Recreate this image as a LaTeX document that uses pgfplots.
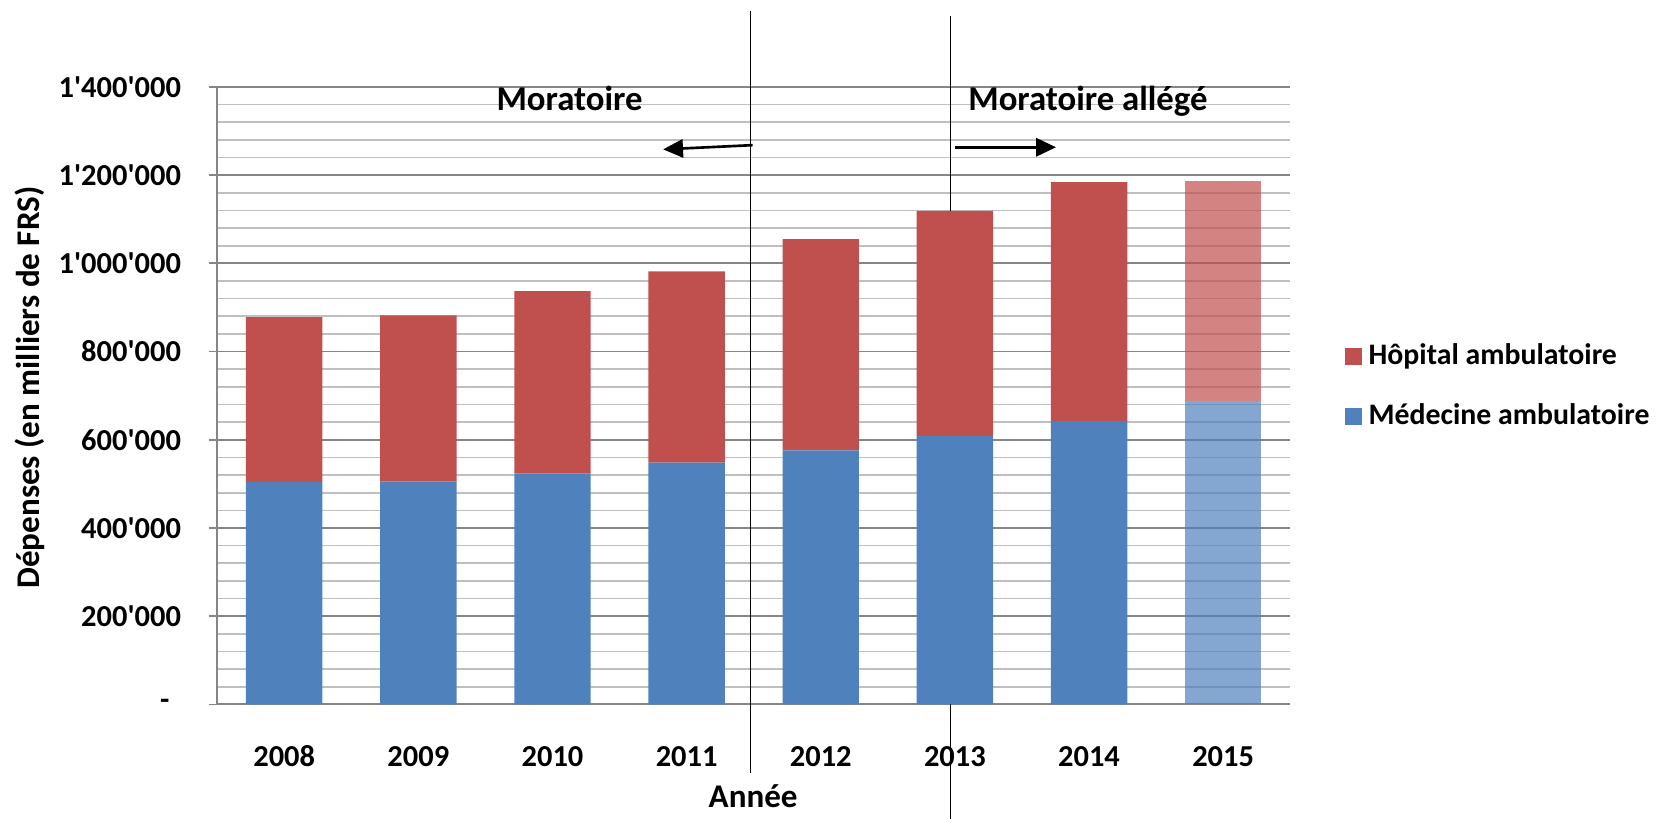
\documentclass[border=0pt]{standalone}
\usepackage{pgfplots}
\pgfplotsset{compat=1.18}
\usepackage{fontspec}
\setmainfont{Carlito}[Ligatures=TeXOff]
\usetikzlibrary{arrows.meta}
\definecolor{hop}{HTML}{C0504D}
\definecolor{med}{HTML}{4F81BD}
\definecolor{majgrid}{HTML}{868686}
\definecolor{mingrid}{HTML}{BFBFBF}
\begin{document}
\begin{tikzpicture}
\useasboundingbox (-65.6pt,-34.56pt) rectangle (436.16pt,212.8pt);
\begin{axis}[
  at={(0pt,0pt)}, anchor=south west,
  scale only axis, width=324.16pt, height=186.56pt,
  ybar stacked, bar width=0.57,
  xmin=-0.5, xmax=7.5, ymin=0, ymax=1400000,
  scaled y ticks=false,
  xtick={0,...,7}, xticklabels={2008,2009,2010,2011,2012,2013,2014,2015},
  ytick={0,200000,400000,600000,800000,1000000,1200000,1400000},
  yticklabels={-\hspace*{3.5pt},200'000,400'000,600'000,800'000,1'000'000,1'200'000,1'400'000},
  minor y tick num=4,
  ymajorgrids, yminorgrids,
  major grid style={draw=majgrid, line width=0.55pt},
  minor grid style={draw=mingrid, line width=0.5pt},
  axis x line*=bottom, axis y line*=left,
  axis line style={draw=majgrid, line width=0.6pt},
  xtick style={draw=none},
  ytick style={draw=majgrid, line width=0.55pt},
  tick align=outside, major tick length=2.6pt, minor tick length=0pt,
  ytick pos=left,
  tick label style={font=\fontsize{9.2}{11}\selectfont\bfseries},
  yticklabel style={xshift=-4.8pt},
  xticklabel style={anchor=center, yshift=-13.1pt},
  label style={font=\fontsize{10}{12}\selectfont\bfseries},
  ylabel={Dépenses (en milliers de FRS)},
  ylabel style={at={(axis description cs:-0.175,0.513)}, anchor=center},
  xlabel={Année},
  xlabel style={at={(axis description cs:0.4995,-0.149)}, anchor=center},
  clip=false,
  reverse legend,
  legend cell align=left,
  legend image code/.code={\fill[#1] (0pt,-2.6pt) rectangle (5.2pt,2.6pt);},
  legend style={at={(axis description cs:1.041,0.515)}, anchor=west, draw=none, fill=none,
    font=\fontsize{9}{11}\selectfont\bfseries, row sep=6.3pt},
]
\addplot[fill=med, draw=none] coordinates {(0,504000) (1,505000) (2,523000) (3,548000) (4,576000) (5,608000) (6,643000) (7,0)};
\addlegendentry{Médecine ambulatoire}
\addplot[fill=hop, draw=none] coordinates {(0,374000) (1,377000) (2,414000) (3,434000) (4,479000) (5,511000) (6,541000) (7,0)};
\addlegendentry{Hôpital ambulatoire}
\addplot[fill=med, fill opacity=0.7, draw=none, forget plot] coordinates {(0,0) (1,0) (2,0) (3,0) (4,0) (5,0) (6,0) (7,689000)};
\addplot[fill=hop, fill opacity=0.7, draw=none, forget plot] coordinates {(0,0) (1,0) (2,0) (3,0) (4,0) (5,0) (6,0) (7,497000)};
\draw[black, line width=0.5pt] (axis cs:3.476,1572900) -- (axis cs:3.476,-156100);
\draw[black, line width=0.5pt] (axis cs:4.968,1560900) -- (axis cs:4.968,-300000);
\draw[black, line width=0.8pt, -{Triangle[length=6pt,width=5.5pt]}] (axis cs:3.492,1267900) -- (axis cs:2.825,1258300);
\draw[black, line width=0.8pt, -{Triangle[length=6pt,width=5.5pt]}] (axis cs:5.0,1263100) -- (axis cs:5.754,1263100);
\node[font=\fontsize{10.5}{12}\selectfont\bfseries] at (axis cs:2.127,1373600) {Moratoire};
\node[font=\fontsize{10.5}{12}\selectfont\bfseries] at (axis cs:5.992,1366400) {Moratoire allégé};
\end{axis}
\end{tikzpicture}
\end{document}
